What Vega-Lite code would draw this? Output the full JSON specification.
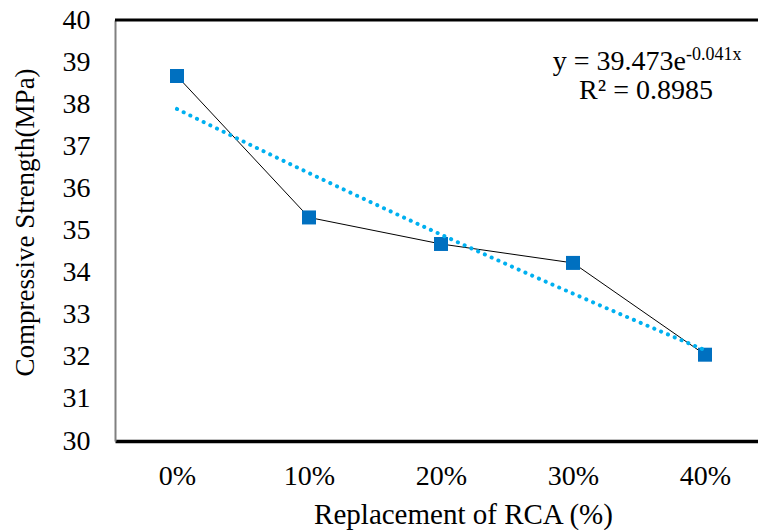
{
  "$schema": "https://vega.github.io/schema/vega-lite/v6.json",
  "width": 643,
  "height": 421,
  "autosize": {"type": "none"},
  "padding": {"left": 115, "top": 20, "right": 0, "bottom": 89},
  "background": "white",
  "config": {
    "view": {"stroke": null},
    "font": "Liberation Serif",
    "axis": {"labelFont": "Liberation Serif", "titleFont": "Liberation Serif"}
  },
  "datasets": {
    "strength": [
      {"rca": "0%", "strength": 38.67},
      {"rca": "10%", "strength": 35.31},
      {"rca": "20%", "strength": 34.68},
      {"rca": "30%", "strength": 34.23},
      {"rca": "40%", "strength": 32.05}
    ],
    "trend": [
      {"rca": "0%", "fit": 37.887},
      {"rca": "10%", "fit": 36.365},
      {"rca": "20%", "fit": 34.904},
      {"rca": "30%", "fit": 33.502},
      {"rca": "40%", "fit": 32.157}
    ]
  },
  "layer": [
    {
      "data": {"name": "strength"},
      "mark": {"type": "line", "color": "black", "strokeWidth": 1},
      "encoding": {
        "x": {
          "field": "rca", "type": "ordinal", "sort": null,
          "scale": {"type": "point", "padding": 0.4356, "align": 0.539},
          "axis": {
            "title": "Replacement of RCA (%)",
            "titleFont": "Liberation Serif", "titleFontSize": 29, "titleFontWeight": "normal", "titleColor": "black",
            "titleX": 348, "titleY": 82, "titleAlign": "center", "titleBaseline": "alphabetic", "titleAnchor": null,
            "labelFont": "Liberation Serif", "labelFontSize": 28, "labelColor": "black", "labelPadding": 21, "labelAngle": 0,
            "ticks": false, "domain": true, "domainColor": "black", "domainWidth": 3.5, "grid": false
          }
        },
        "y": {
          "field": "strength", "type": "quantitative",
          "scale": {"domain": [30, 40], "nice": false, "zero": false},
          "axis": {
            "title": "Compressive Strength(MPa)",
            "titleFont": "Liberation Serif", "titleFontSize": 27, "titleFontWeight": "normal", "titleColor": "black",
            "titleX": -90, "titleY": 202, "titleAngle": -90, "titleAlign": "center", "titleBaseline": "middle",
            "values": [30, 31, 32, 33, 34, 35, 36, 37, 38, 39, 40],
            "labelFont": "Liberation Serif", "labelFontSize": 28, "labelColor": "black", "labelPadding": 25,
            "ticks": false, "domain": true, "domainColor": "#808080", "domainWidth": 2, "grid": false
          }
        }
      }
    },
    {
      "data": {"name": "strength"},
      "mark": {"type": "point", "shape": "square", "filled": true, "size": 196, "color": "#0070C0", "opacity": 1},
      "encoding": {
        "x": {"field": "rca", "type": "ordinal", "sort": null},
        "y": {"field": "strength", "type": "quantitative"}
      }
    },
    {
      "data": {"name": "trend"},
      "mark": {"type": "line", "color": "#00B0F0", "strokeWidth": 4, "strokeDash": [0.1, 7.3], "strokeCap": "round", "interpolate": "monotone"},
      "encoding": {
        "x": {"field": "rca", "type": "ordinal", "sort": null},
        "y": {"field": "fit", "type": "quantitative"}
      }
    },
    {
      "data": {"values": [{}]},
      "mark": {"type": "rule", "color": "black", "strokeWidth": 3},
      "encoding": {"y": {"datum": 40}}
    },
    {
      "data": {"values": [{}]},
      "mark": {"type": "text", "text": "y = 39.473e", "font": "Liberation Serif", "fontSize": 28, "color": "black", "align": "right", "baseline": "alphabetic", "dx": -19},
      "encoding": {"x": {"datum": "40%"}, "y": {"datum": 38.81}}
    },
    {
      "data": {"values": [{}]},
      "mark": {"type": "text", "text": "-0.041x", "font": "Liberation Serif", "fontSize": 18, "color": "black", "align": "left", "baseline": "alphabetic", "dx": -19},
      "encoding": {"x": {"datum": "40%"}, "y": {"datum": 39.05}}
    },
    {
      "data": {"values": [{}]},
      "mark": {"type": "text", "text": "R² = 0.8985", "font": "Liberation Serif", "fontSize": 28, "color": "black", "align": "right", "baseline": "alphabetic", "dx": 8},
      "encoding": {"x": {"datum": "40%"}, "y": {"datum": 38.12}}
    }
  ]
}
